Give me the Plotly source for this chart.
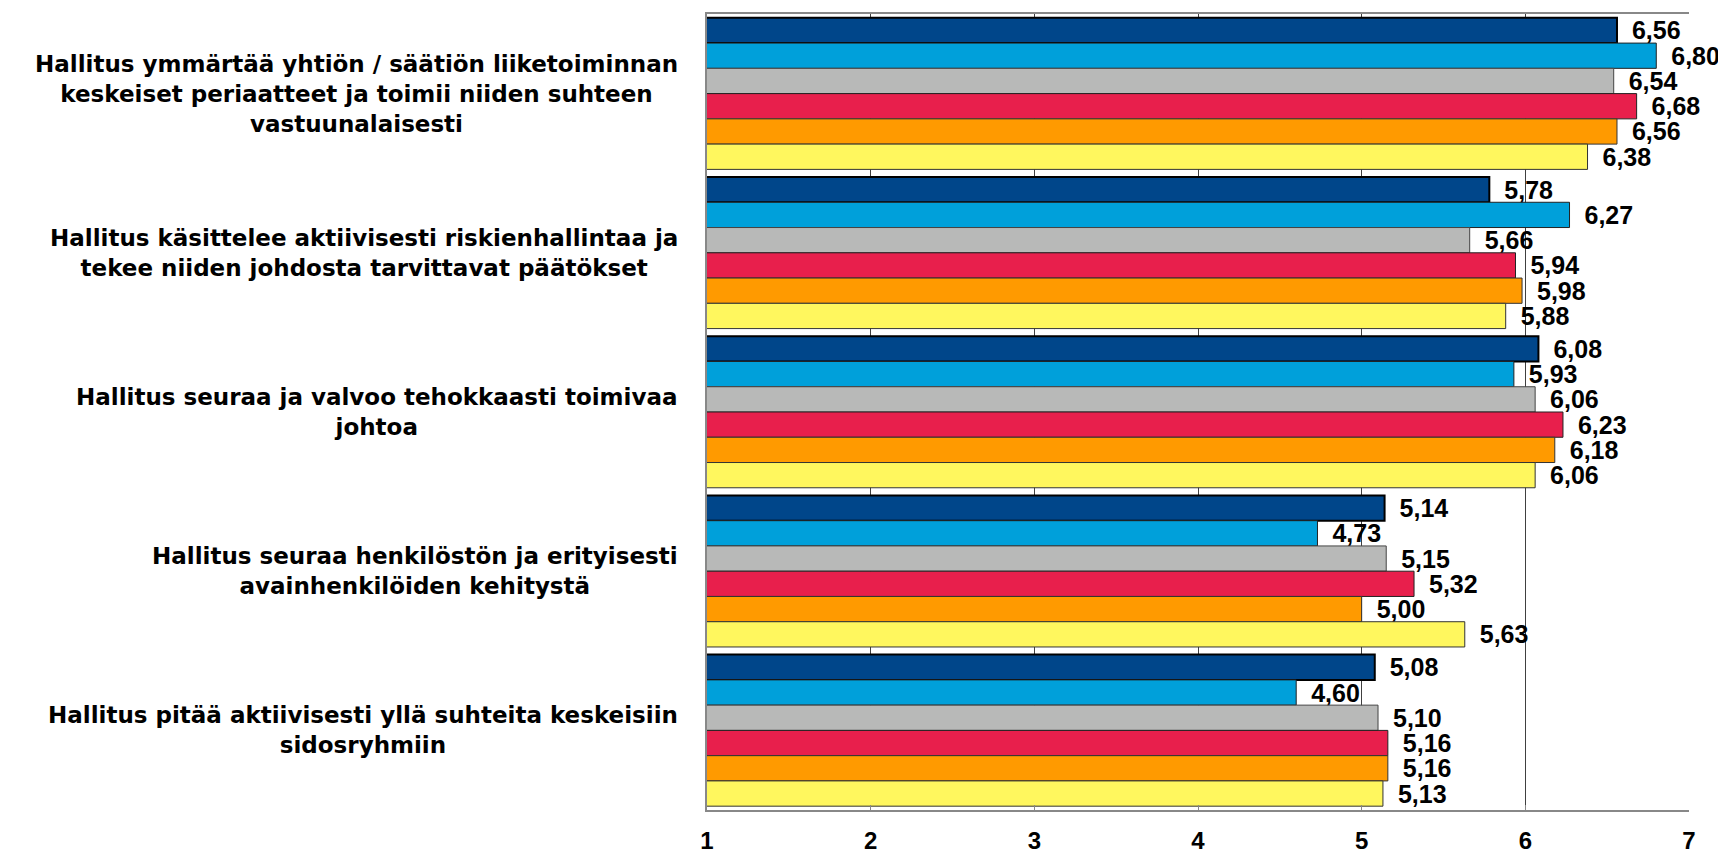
import plotly.graph_objects as go

categories = [
    "Hallitus ymmärtää yhtiön / säätiön liiketoiminnan<br>keskeiset periaatteet ja toimii niiden suhteen<br>vastuunalaisesti",
    "Hallitus käsittelee aktiivisesti riskienhallintaa ja<br>tekee niiden johdosta tarvittavat päätökset",
    "Hallitus seuraa ja valvoo tehokkaasti toimivaa<br>johtoa",
    "Hallitus seuraa henkilöstön ja erityisesti<br>avainhenkilöiden kehitystä",
    "Hallitus pitää aktiivisesti yllä suhteita keskeisiin<br>sidosryhmiin",
]
cat_ids = ["C1", "C2", "C3", "C4", "C5"]

series_names = ["Sarja 1", "Sarja 2", "Sarja 3", "Sarja 4", "Sarja 5", "Sarja 6"]
series_values = [
    [6.56, 5.78, 6.08, 5.14, 5.08],
    [6.80, 6.27, 5.93, 4.73, 4.60],
    [6.54, 5.66, 6.06, 5.15, 5.10],
    [6.68, 5.94, 6.23, 5.32, 5.16],
    [6.56, 5.98, 6.18, 5.00, 5.16],
    [6.38, 5.88, 6.06, 5.63, 5.13],
]
colors = ["#00468A", "#00A0DA", "#B8B9B8", "#E81F4C", "#FF9A00", "#FFF75E"]
line_colors = ["#000000", "#222222", "#444444", "#222222", "#333333", "#333333"]
line_widths = [2, 1, 1, 1, 1, 1]

x_ticks = [1, 2, 3, 4, 5, 6, 7]

fig = go.Figure()
for name, vals, col, lc, lw in zip(series_names, series_values, colors, line_colors, line_widths):
    fig.add_trace(go.Bar(
        name=name,
        y=cat_ids,
        x=vals,
        orientation="h",
        marker=dict(color=col, line=dict(color=lc, width=lw)),
        text=["\u00a0\u2009" + f"{v:.2f}".replace(".", ",") for v in vals],
        textposition="outside",
        constraintext="none",
        cliponaxis=False,
        textfont=dict(family="Liberation Sans, Arial", size=25, color="#000000", weight="bold"),
        showlegend=False,
        hoverinfo="skip",
    ))

for cid, label in zip(cat_ids, categories):
    fig.add_annotation(
        x=0, xref="paper", xanchor="right", xshift=-27,
        y=cid, yref="y", yanchor="middle",
        text=label, align="center", showarrow=False,
        font=dict(family="DejaVu Sans", size=23, color="#000000", weight="bold"),
    )

fig.update_layout(
    width=1726, height=853,
    margin=dict(l=699, r=45, t=4, b=51),
    barmode="group",
    bargap=0.048,
    bargroupgap=0,
    plot_bgcolor="#FFFFFF",
    paper_bgcolor="#FFFFFF",
    xaxis=dict(
        range=[1, 7],
        tickvals=x_ticks,
        ticktext=[str(t) for t in x_ticks],
        showgrid=True, gridcolor="#404040", gridwidth=1.2,
        showline=True, linecolor="#888888", linewidth=1.5, mirror=True,
        ticks="inside", ticklen=5, tickcolor="#888888",
        zeroline=False,
        tickfont=dict(family="Liberation Sans, Arial", size=24, color="#000000", weight="bold"),
        ticklabelstandoff=8,
    ),
    yaxis=dict(
        autorange="reversed",
        showticklabels=False,
        showgrid=False,
        showline=True, linecolor="#888888", linewidth=1.5,
        ticks="",
        zeroline=False,
    ),
)

fig.write_html("out.html")
